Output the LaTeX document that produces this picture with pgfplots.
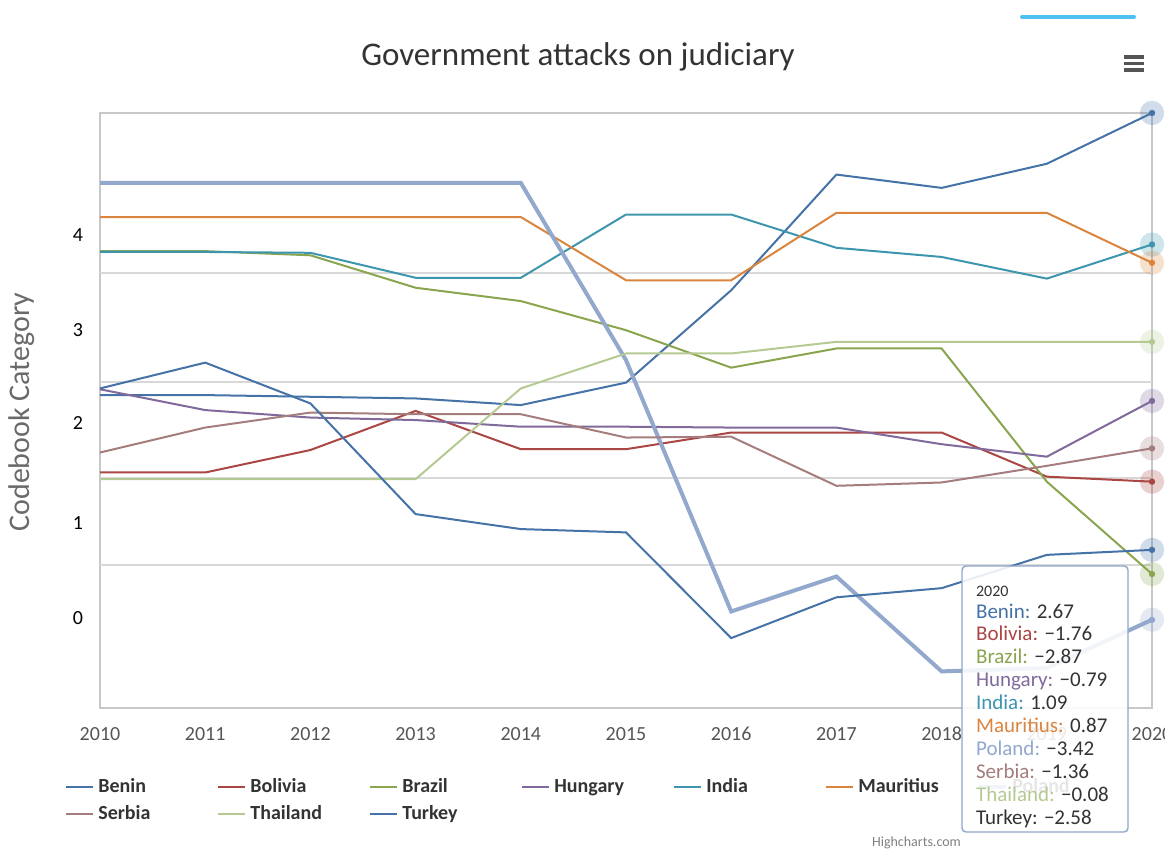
\documentclass[border=0pt]{standalone}
\usepackage{pgfplots}
\pgfplotsset{compat=1.18}
\usepackage{fontspec}
\setmainfont{Carlito}
\definecolor{cBenin}{HTML}{4572A7}
\definecolor{cBolivia}{HTML}{AA4643}
\definecolor{cBrazil}{HTML}{89A54E}
\definecolor{cHungary}{HTML}{80699B}
\definecolor{cIndia}{HTML}{3D96AE}
\definecolor{cMauritius}{HTML}{DB843D}
\definecolor{cPoland}{HTML}{92A8CD}
\definecolor{cSerbia}{HTML}{A47D7C}
\definecolor{cThailand}{HTML}{B5CA92}
\definecolor{cTurkey}{HTML}{4572A7}
\definecolor{axisgray}{HTML}{C8C8C8}
\definecolor{gridgray}{HTML}{D8D8D8}
\definecolor{tickgray}{HTML}{555555}
\definecolor{titlegray}{HTML}{333333}
\definecolor{labelgray}{HTML}{6A6A6A}
\definecolor{tipborder}{HTML}{8FA6C8}
\definecolor{topbar}{HTML}{4FC1F0}
\pgfdeclareplotmark{halo}{%
  \pgfsetfillopacity{0.25}%
  \pgfpathcircle{\pgfpointorigin}{3.8\pgfplotmarksize}%
  \pgfusepath{fill}%
  \pgfsetfillopacity{1}%
  \pgfpathcircle{\pgfpointorigin}{\pgfplotmarksize}%
  \pgfusepath{fill}%
}
\newcommand{\lgent}[1]{\makebox[57.5pt][l]{#1}}
\begin{document}
\begin{tikzpicture}
\path[use as bounding box] (0,0) rectangle (582.5pt,-424.5pt);
\begin{axis}[
  at={(50pt,-56.5pt)}, anchor=north west,
  scale only axis, width=526pt, height=297.5pt,
  xmin=2010, xmax=2020, ymin=-4.48, ymax=2.67,
  clip=false,
  xtick={2010,2011,...,2020},
  ytick={1.205,0.063,-1.054,-2.255,-3.396},
  yticklabels={4,3,2,1,0},
  extra y ticks={0.744,-0.558,-1.718,-2.76},
  extra y tick labels={,,,},
  extra y tick style={grid=major, major grid style={draw=gridgray, line width=1pt}},
  major tick length=0pt,
  axis line style={draw=axisgray, line width=1pt},
  /pgf/number format/assume math mode=true,
  /pgf/number format/1000 sep={},
  xticklabel style={font=\fontsize{10}{12}\selectfont, text=tickgray, yshift=-6pt},
  yticklabel style={font=\fontsize{10}{12}\selectfont, text=black, xshift=-5pt},
  legend columns=7,
  legend cell align=left,
  legend style={at={(-0.039,-0.105)}, anchor=north west, draw=none, fill=none,
    font=\fontsize{10}{12}\selectfont\bfseries, text=titlegray,
    /tikz/every even column/.append style={column sep=0pt},
    row sep=1pt},
  legend image code/.code={\draw[#1, mark=none] (0pt,0pt) -- (13.5pt,0pt);},
  every axis plot/.append style={line width=1pt, mark=halo, mark indices={11}, mark size=1.6pt},
]
\addplot[cBenin, mark options={fill=cBenin, draw=none}] coordinates {(2010,-0.72) (2011,-0.72) (2012,-0.74) (2013,-0.76) (2014,-0.84) (2015,-0.57) (2016,0.54) (2017,1.93) (2018,1.77) (2019,2.06) (2020,2.67)};
\addlegendentry{\lgent{Benin}}
\addplot[cBolivia, mark options={fill=cBolivia, draw=none}] coordinates {(2010,-1.65) (2011,-1.65) (2012,-1.38) (2013,-0.91) (2014,-1.37) (2015,-1.37) (2016,-1.17) (2017,-1.17) (2018,-1.17) (2019,-1.70) (2020,-1.76)};
\addlegendentry{\lgent{Bolivia}}
\addplot[cBrazil, mark options={fill=cBrazil, draw=none}] coordinates {(2010,1.01) (2011,1.01) (2012,0.96) (2013,0.57) (2014,0.41) (2015,0.06) (2016,-0.39) (2017,-0.16) (2018,-0.16) (2019,-1.76) (2020,-2.87)};
\addlegendentry{\lgent{Brazil}}
\addplot[cHungary, mark options={fill=cHungary, draw=none}] coordinates {(2010,-0.65) (2011,-0.90) (2012,-0.99) (2013,-1.02) (2014,-1.10) (2015,-1.10) (2016,-1.11) (2017,-1.11) (2018,-1.31) (2019,-1.46) (2020,-0.79)};
\addlegendentry{\lgent{Hungary}}
\addplot[cIndia, mark options={fill=cIndia, draw=none}] coordinates {(2010,1.00) (2011,1.00) (2012,0.99) (2013,0.69) (2014,0.69) (2015,1.45) (2016,1.45) (2017,1.05) (2018,0.94) (2019,0.68) (2020,1.09)};
\addlegendentry{\lgent{India}}
\addplot[cMauritius, mark options={fill=cMauritius, draw=none}] coordinates {(2010,1.42) (2011,1.42) (2012,1.42) (2013,1.42) (2014,1.42) (2015,0.66) (2016,0.66) (2017,1.47) (2018,1.47) (2019,1.47) (2020,0.87)};
\addlegendentry{\lgent{Mauritius}}
\addplot[cPoland, line width=2pt, mark options={fill=cPoland, draw=none}] coordinates {(2010,1.83) (2011,1.83) (2012,1.83) (2013,1.83) (2014,1.83) (2015,-0.30) (2016,-3.32) (2017,-2.90) (2018,-4.04) (2019,-4.00) (2020,-3.42)};
\addlegendentry{\lgent{Poland}}
\addplot[cSerbia, mark options={fill=cSerbia, draw=none}] coordinates {(2010,-1.41) (2011,-1.11) (2012,-0.93) (2013,-0.95) (2014,-0.95) (2015,-1.23) (2016,-1.22) (2017,-1.81) (2018,-1.77) (2019,-1.57) (2020,-1.36)};
\addlegendentry{\lgent{Serbia}}
\addplot[cThailand, mark options={fill=cThailand, draw=none}] coordinates {(2010,-1.73) (2011,-1.73) (2012,-1.73) (2013,-1.73) (2014,-0.64) (2015,-0.22) (2016,-0.22) (2017,-0.08) (2018,-0.08) (2019,-0.08) (2020,-0.08)};
\addlegendentry{\lgent{Thailand}}
\addplot[cTurkey, mark options={fill=cTurkey, draw=none}] coordinates {(2010,-0.64) (2011,-0.33) (2012,-0.82) (2013,-2.15) (2014,-2.33) (2015,-2.37) (2016,-3.64) (2017,-3.15) (2018,-3.04) (2019,-2.64) (2020,-2.58)};
\addlegendentry{\lgent{Turkey}}
\end{axis}
% title and axis label
\node[font=\fontsize{16.5}{19}\selectfont, text=titlegray] at (289pt,-28.5pt) {Government attacks on judiciary};
\node[font=\fontsize{15}{18}\selectfont, text=labelgray, rotate=90] at (11pt,-206pt) {Codebook Category};
% menu icon and top bar
\foreach \yy in {28.5,31.75,35} \draw[line width=1.6pt, color=tickgray] (562pt,-\yy pt) -- (572pt,-\yy pt);
\draw[line width=2pt, color=topbar, line cap=round] (511pt,-8.5pt) -- (567pt,-8.5pt);
% credit
\node[anchor=base west, font=\fontsize{7}{8}\selectfont, text=gray] at (432.5pt,-423pt) {Highcharts.com};
% tooltip
\draw[draw=tipborder, line width=0.7pt, fill=white, fill opacity=0.88, rounded corners=2pt] (481pt,-283pt) rectangle (564pt,-416pt);
\node[anchor=base west, font=\fontsize{8}{9}\selectfont, text=titlegray] at (484.5pt,-298pt) {2020};
\begin{scope}[every node/.style={anchor=base west, font=\fontsize{10.5}{12}\selectfont, text=titlegray}]
\node at (484.5pt,-309.0pt) {\textcolor{cBenin}{Benin:} 2.67};
\node at (484.5pt,-320.45pt) {\textcolor{cBolivia}{Bolivia:} −1.76};
\node at (484.5pt,-331.9pt) {\textcolor{cBrazil}{Brazil:} −2.87};
\node at (484.5pt,-343.35pt) {\textcolor{cHungary}{Hungary:} −0.79};
\node at (484.5pt,-354.8pt) {\textcolor{cIndia}{India:} 1.09};
\node at (484.5pt,-366.25pt) {\textcolor{cMauritius}{Mauritius:} 0.87};
\node at (484.5pt,-377.7pt) {\textcolor{cPoland}{Poland:} −3.42};
\node at (484.5pt,-389.15pt) {\textcolor{cSerbia}{Serbia:} −1.36};
\node at (484.5pt,-400.6pt) {\textcolor{cThailand}{Thailand:} −0.08};
\node at (484.5pt,-412.05pt) {Turkey: −2.58};
\end{scope}
\end{tikzpicture}
\end{document}
